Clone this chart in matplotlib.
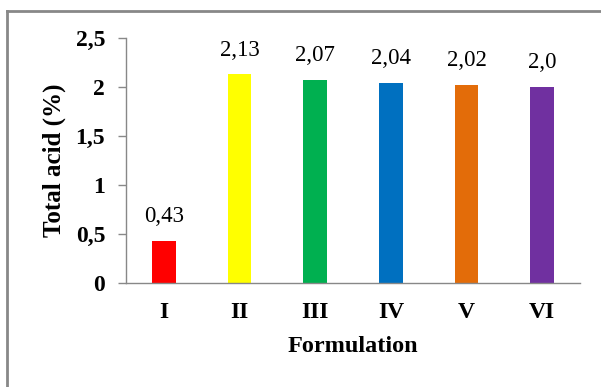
import matplotlib
matplotlib.use("Agg")
import matplotlib.pyplot as plt
from matplotlib.lines import Line2D

formulations = ["I", "II", "III", "IV", "V", "VI"]
total_acid = [0.43, 2.13, 2.07, 2.04, 2.02, 2.0]
value_labels = ["0,43", "2,13", "2,07", "2,04", "2,02", "2,0"]
bar_colors = ["#FF0000", "#FFFF00", "#00B050", "#0070C0", "#E36C09", "#7030A0"]
y_ticks = [0, 0.5, 1, 1.5, 2, 2.5]
y_tick_labels = ["0", "0,5", "1", "1,5", "2", "2,5"]

plt.rcParams["font.family"] = ["Liberation Serif", "DejaVu Serif"]

fig = plt.figure(figsize=(6.01, 3.87), dpi=100)
ax = fig.add_axes([0.2097, 0.2687, 0.7553, 0.6331])

x = range(len(formulations))
ax.bar(x, total_acid, width=0.31, color=bar_colors)

for xi, val, lab in zip(x, total_acid, value_labels):
    ax.annotate(lab, (xi, val), xytext=(0, 13.5), textcoords="offset points",
                ha="center", va="baseline", fontsize=16.5)

ax.set_xlim(-0.5, len(formulations) - 0.5)
ax.set_ylim(0, 2.5)
ax.set_yticks(y_ticks)
ax.set_yticklabels(y_tick_labels, fontsize=17, fontweight="bold")
ax.set_xticks(list(x))
ax.set_xticklabels(formulations, fontsize=17, fontweight="bold")
ax.tick_params(axis="x", length=0, pad=14)
ax.tick_params(axis="y", length=6, width=1, color="#888888", pad=9)

for side in ["top", "right"]:
    ax.spines[side].set_visible(False)
for side in ["left", "bottom"]:
    ax.spines[side].set_color("#888888")
    ax.spines[side].set_linewidth(1)

fig.text(0.5 * (0.2097 + 0.965), 1 - 347 / 387, "Formulation", ha="center",
         va="center", fontsize=17.5, fontweight="bold")
fig.text(54 / 601, 1 - 160 / 387, "Total acid (%)", rotation=90, ha="center",
         va="center", fontsize=18, fontweight="bold")

# outer frame along the top and left edge
fig.add_artist(Line2D([7 / 601, 1], [1 - 11 / 387] * 2, color="#888888", lw=2,
                      transform=fig.transFigure))
fig.add_artist(Line2D([7 / 601] * 2, [0, 1 - 11 / 387], color="#888888", lw=2,
                      transform=fig.transFigure))

fig.savefig("out.png", dpi=100)
